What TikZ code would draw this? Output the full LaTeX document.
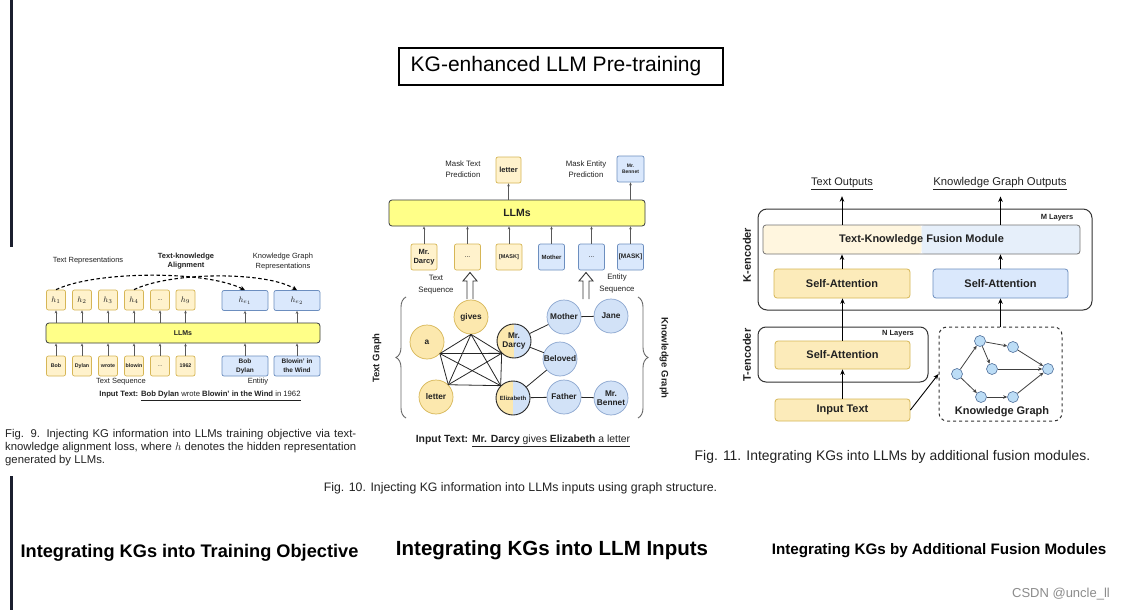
\documentclass[tikz,border=0pt]{standalone}
\usepackage{fontspec}
\setmainfont{Liberation Sans}
\usetikzlibrary{arrows.meta,decorations.pathreplacing,calc}
\definecolor{yfill}{HTML}{FFF2CC}
\definecolor{ybd}{HTML}{D6B656}
\definecolor{bfill}{HTML}{DAE8FC}
\definecolor{bbd}{HTML}{6C8EBF}
\definecolor{llmfill}{HTML}{FFFF88}
\definecolor{llmbd}{HTML}{36393D}
\definecolor{cyfill}{HTML}{FCE8AE}
\definecolor{cbfill}{HTML}{D2E2F7}
\definecolor{cbbd}{HTML}{8BA6CF}
\definecolor{barc}{HTML}{1B1F2E}
\definecolor{txt}{HTML}{222222}
\definecolor{fuy}{HTML}{FFF6DF}
\definecolor{fub}{HTML}{E6EFFA}
\definecolor{sayfill}{HTML}{FCEBBA}
\definecolor{kgn}{HTML}{BCDDF6}
\definecolor{kgnbd}{HTML}{4F6F9A}
\newcommand\fsz[2]{\fontsize{#1}{#2}\selectfont}
\begin{document}
\begin{tikzpicture}[x=1pt,y=-1pt,
 ybox/.style={draw=ybd,fill=yfill,rounded corners=2pt,line width=0.7pt,inner sep=0pt,align=center,text=txt},
 bbox/.style={draw=bbd,fill=bfill,rounded corners=2pt,line width=0.7pt,inner sep=0pt,align=center,text=txt},
 llmbar/.style={draw=llmbd,fill=llmfill,rounded corners=3pt,line width=0.8pt,inner sep=0pt,text=txt},
 garr/.style={draw=black!65,line width=0.8pt,-{Stealth[length=3pt,width=2.6pt]}},
 barr/.style={draw=black,line width=0.9pt,-{Stealth[length=5.5pt,width=4.5pt]}},
 lbl/.style={inner sep=0pt,align=center,text=txt},
 ycirc/.style={circle,draw=ybd,fill=cyfill,minimum size=34pt,inner sep=0pt,line width=0.7pt,font=\bfseries\fsz{8.3}{9.5},text=txt,align=center},
 bcirc/.style={circle,draw=cbbd,fill=cbfill,minimum size=34pt,inner sep=0pt,line width=0.7pt,font=\bfseries\fsz{8.3}{9.5},text=txt,align=center},
 scirc/.style={circle,draw=black!85,line width=0.9pt,minimum size=34pt,inner sep=0pt,font=\bfseries\fsz{8.3}{9.5},text=txt,align=center,
   path picture={\fill[cyfill] (path picture bounding box.south west) rectangle (path picture bounding box.north);
                 \fill[cbfill] (path picture bounding box.south) rectangle (path picture bounding box.north east);}},
 gedge/.style={draw=black!85,line width=0.8pt},
 kgnode/.style={circle,draw=kgnbd,fill=kgn,minimum size=11pt,inner sep=0pt,line width=0.6pt},
 karr/.style={draw=black!75,line width=0.8pt,-{Stealth[length=4pt,width=3.5pt]}},
 hollow/.style={draw=black!80,fill=white,line width=0.9pt,line join=miter},
 brc/.style={decorate,decoration={brace,amplitude=10pt},draw=black!60,line width=0.9pt},
]
\useasboundingbox (0,0) rectangle (1125,610);
\fill[white] (0,0) rectangle (1125,610);
% left bars
\fill[barc] (10,0) rectangle (13,247);
\fill[barc] (10,476) rectangle (13,610);
% title
\node[draw=black,line width=2.5pt,minimum width=324pt,minimum height=37pt,inner sep=0pt,font=\fsz{21}{24}] (title) at (561,66.5) {KG-enhanced LLM Pre-training\hspace*{10pt}};

% ================= Fig 9 =================
\foreach \i/\x/\t in {1/56/$h_1$,2/82/$h_2$,3/108/$h_3$,4/134/$h_4$,5/160/{\fsz{6}{7}...},6/185.5/$h_9$}
  \node[ybox,minimum width=19pt,minimum height=20pt,font=\fsz{8}{9}] (h\i) at (\x,300) {\t};
\node[bbox,minimum width=46pt,minimum height=20pt,font=\fsz{8}{9}] (he1) at (245,300.5) {$h_{e_1}$};
\node[bbox,minimum width=46pt,minimum height=20pt,font=\fsz{8}{9}] (he2) at (297,300.5) {$h_{e_2}$};
\node[llmbar,minimum width=274pt,minimum height=20pt,font=\bfseries\fsz{7}{8}] (llm9) at (183,333) {LLMs};
\foreach \i/\x/\t in {1/56/Bob,2/82/Dylan,3/108/wrote,4/134/blowin,5/160/{\mdseries...},6/185.5/1962}
  \node[ybox,minimum width=19pt,minimum height=20pt,font=\bfseries\fsz{5.3}{6}] (t\i) at (\x,366) {\t};
\node[bbox,minimum width=46pt,minimum height=20pt,font=\bfseries\fsz{6.5}{9}] (e1) at (245,366) {Bob\\Dylan};
\node[bbox,minimum width=46pt,minimum height=20pt,font=\bfseries\fsz{6.5}{9}] (e2) at (297,366) {Blowin' in\\the Wind};
\foreach \i in {1,...,6}{
  \draw[garr] (t\i.north) -- (t\i.north |- llm9.south);
  \draw[garr] (h\i.south |- llm9.north) -- (h\i.south);
}
\foreach \i in {1,2}{
  \draw[garr] (e\i.north) -- (e\i.north |- llm9.south);
  \draw[garr] (he\i.south |- llm9.north) -- (he\i.south);
}
\draw[line width=1.1pt,dash pattern=on 3.5pt off 2.5pt,-{Stealth[length=5pt,width=4.5pt]}] (h1.north) .. controls (95,271) and (205,270) .. (he1.north);
\draw[line width=1.1pt,dash pattern=on 3.5pt off 2.5pt,-{Stealth[length=5pt,width=4.5pt]}] (h4.north) .. controls (170,272) and (265,271) .. (he2.north);
\node[lbl,font=\fsz{7.5}{9}] (trep) at (88,261) {Text Representations};
\node[lbl,font=\bfseries\fsz{7.5}{9}] (tka) at (186,261.5) {Text-knowledge\\Alignment};
\node[lbl,font=\fsz{7.5}{10}] (kgrep) at (283,262) {Knowledge Graph\\Representations};
\node[lbl,font=\fsz{7.5}{9}] (tseq9) at (121,382) {Text Sequence};
\node[lbl,font=\fsz{7.5}{9}] (ent9) at (258,382) {Entitiy};
\node[lbl,font=\fsz{7.7}{9}] (in9) at (200,396) {\textbf{Input Text:} \underline{\textbf{Bob Dylan} wrote \textbf{Blowin' in the Wind} in 1962}};
\node[lbl,anchor=north west,text width=351pt,align=justify,font=\fsz{11.3}{12.7}] (cap9) at (5,429.5)
 {Fig. 9. Injecting KG information into LLMs training objective via text-\linebreak knowledge alignment loss, where $h$ denotes the hidden representation\linebreak generated by LLMs.};

% ================= Fig 10 =================
\node[lbl,font=\fsz{7.8}{11}] (mtp) at (463,169.5) {Mask Text\\Prediction};
\node[ybox,minimum width=25pt,minimum height=26pt,font=\bfseries\fsz{7.5}{9}] (letter) at (508.5,170) {letter};
\node[lbl,font=\fsz{7.8}{11}] (mep) at (586,169.5) {Mask Entity\\Prediction};
\node[bbox,minimum width=27pt,minimum height=26pt,font=\bfseries\fsz{5}{6.5}] (mbn) at (630.5,169) {Mr.\\Bennet};
\node[llmbar,minimum width=256pt,minimum height=26pt,font=\bfseries\fsz{10.5}{12}] (llm10) at (517,213) {LLMs};
\node[ybox,minimum width=26pt,minimum height=26pt,font=\bfseries\fsz{7.5}{9}] (s1) at (424,257) {Mr.\\Darcy};
\node[ybox,minimum width=26pt,minimum height=26pt,font=\fsz{7}{8}] (s2) at (467.5,257) {...};
\node[ybox,minimum width=26pt,minimum height=26pt,font=\bfseries\fsz{5.5}{7}] (s3) at (509,257) {[MASK]};
\node[bbox,minimum width=26pt,minimum height=26pt,font=\bfseries\fsz{6}{7}] (s4) at (551.5,257) {Mother};
\node[bbox,minimum width=26pt,minimum height=26pt,font=\fsz{7}{8}] (s5) at (591.5,257) {...};
\node[bbox,minimum width=26pt,minimum height=26pt,font=\bfseries\fsz{6.5}{7}] (s6) at (630.5,257) {[MASK]};
\foreach \i in {1,...,6} \draw[garr] (s\i.north) -- (s\i.north |- llm10.south);
\draw[garr] (letter.south |- llm10.north) -- (letter.south);
\draw[garr] (mbn.south |- llm10.north) -- (mbn.south);
\node[lbl,font=\fsz{7.8}{12}] (tseq10) at (436,285) {Text\\Sequence};
\node[lbl,font=\fsz{7.8}{12}] (eseq10) at (617,283) {Entity\\Sequence};
\draw[hollow] (467,299) -- (467,281) -- (463,281) -- (470,272.5) -- (477,281) -- (473,281) -- (473,299);
\draw[hollow] (583,299) -- (583,281) -- (579,281) -- (586,272.5) -- (593,281) -- (589,281) -- (589,299);
\draw[brc] (406,418) -- (406,297);
\draw[brc] (638,297) -- (638,418);
\node[lbl,font=\bfseries\fsz{9.5}{11},rotate=90] (tg) at (377,358) {Text Graph};
\node[lbl,font=\bfseries\fsz{9.5}{11},rotate=-90] (kg) at (664,358) {Knowledge Graph};
\node[ycirc] (ca) at (427,342) {a};
\node[ycirc] (cg) at (471,317) {gives};
\node[ycirc] (cl) at (436,397) {letter};
\node[scirc] (cd) at (514,341) {Mr.\\Darcy};
\node[scirc,font=\bfseries\fsz{6}{7}] (ce) at (513,398) {Elizabeth};
\node[bcirc] (cm) at (564,317) {Mother};
\node[bcirc] (cj) at (611,316) {Jane};
\node[bcirc] (cb) at (560,359) {Beloved};
\node[bcirc] (cf) at (564,397) {Father};
\node[bcirc] (cn) at (611,398) {Mr.\\Bennet};
\draw[gedge] (ca.-42) -- (cg.-90);
\draw[gedge] (ca.-42) -- (cl.45);
\draw[gedge] (ca.-42) -- (cd.-135);
\draw[gedge] (ca.-42) -- (ce.135);
\draw[gedge] (cg.-90) -- (cl.45);
\draw[gedge] (cg.-90) -- (cd.-135);
\draw[gedge] (cg.-90) -- (ce.135);
\draw[gedge] (cl.45) -- (cd.-135);
\draw[gedge] (cl.45) -- (ce.135);
\draw[gedge] (cd.-135) -- (ce.135);
\draw[gedge] (cd) -- (cm);
\draw[gedge] (cd) -- (cb);
\draw[gedge] (ce) -- (cb);
\draw[gedge] (ce) -- (cf);
\draw[gedge] (cm) -- (cj);
\draw[gedge] (cf) -- (cn);
\node[lbl,font=\fsz{10.4}{12}] (in10) at (523,441) {\textbf{Input Text:} \underline{\textbf{Mr. Darcy} gives \textbf{Elizabeth} a letter}};
\node[lbl,font=\fsz{12.3}{14}] (cap10) at (520.5,488) {Fig. 10. Injecting KG information into LLMs inputs using graph structure.};

% ================= Fig 11 =================
\node[lbl,font=\fsz{11}{12}] (tout) at (842,184) {\underline{Text Outputs}};
\node[lbl,font=\fsz{11.3}{12}] (kgout) at (1000,184) {\underline{Knowledge Graph Outputs}};
\node[draw=black!80,line width=1pt,rounded corners=9pt,minimum width=334pt,minimum height=101pt,inner sep=0pt] (kenc) at (925,259.5) {};
\node[lbl,font=\bfseries\fsz{11}{12},rotate=90] (klab) at (747,255) {K-encoder};
\node[lbl,font=\bfseries\fsz{7.5}{9}] (mlay) at (1057,218) {M Layers};
\node[draw=black!55,line width=0.8pt,rounded corners=3pt,minimum width=317pt,minimum height=29pt,inner sep=0pt,font=\bfseries\fsz{11}{12},text=txt,
  path picture={\fill[fuy] (path picture bounding box.south west) rectangle (path picture bounding box.north);
                \fill[fub] (path picture bounding box.south) rectangle (path picture bounding box.north east);}] (fusion) at (921.5,239.5) {Text-Knowledge Fusion Module};
\node[draw=ybd,fill=sayfill,rounded corners=3pt,line width=0.8pt,minimum width=136pt,minimum height=29pt,inner sep=0pt,font=\bfseries\fsz{11}{12},text=txt] (ksa) at (842,283.5) {Self-Attention};
\node[draw=bbd,fill=bfill,rounded corners=3pt,line width=0.8pt,minimum width=135pt,minimum height=29pt,inner sep=0pt,font=\bfseries\fsz{11}{12},text=txt] (ksa2) at (1000.5,283.5) {Self-Attention};
\node[draw=black!80,line width=1pt,rounded corners=8pt,minimum width=170pt,minimum height=55pt,inner sep=0pt] (tenc) at (843,354.5) {};
\node[lbl,font=\bfseries\fsz{11}{12},rotate=90] (tlab) at (747,355) {T-encoder};
\node[lbl,font=\bfseries\fsz{7.5}{9}] (nlay) at (898,334) {N Layers};
\node[draw=ybd,fill=sayfill,rounded corners=3pt,line width=0.8pt,minimum width=135pt,minimum height=28pt,inner sep=0pt,font=\bfseries\fsz{11}{12},text=txt] (tsa) at (842.5,355) {Self-Attention};
\node[draw=ybd,fill=sayfill,rounded corners=3pt,line width=0.8pt,minimum width=135pt,minimum height=22pt,inner sep=0pt,font=\bfseries\fsz{11}{12},text=txt] (intext) at (842.5,410) {Input Text};
\node[draw=black!80,dashed,line width=1pt,rounded corners=8pt,minimum width=123pt,minimum height=94pt,inner sep=0pt] (kgbox) at (1000.5,374) {};
\node[lbl,font=\bfseries\fsz{11}{12}] (kglab) at (1002,412) {Knowledge Graph};
\node[kgnode] (n1) at (957,374) {};
\node[kgnode] (n2) at (980,341) {};
\node[kgnode] (n3) at (1013,347) {};
\node[kgnode] (n4) at (992,369) {};
\node[kgnode] (n5) at (1048,369) {};
\node[kgnode] (n6) at (981,397) {};
\node[kgnode] (n7) at (1013,397) {};
\draw[karr] (n1) -- (n2);
\draw[karr] (n1) -- (n6);
\draw[karr] (n2) -- (n3);
\draw[karr] (n2) -- (n4);
\draw[karr] (n3) -- (n5);
\draw[karr] (n4) -- (n5);
\draw[karr] (n6) -- (n7);
\draw[karr] (n7) -- (n5);
\draw[barr] (intext.north) -- (tsa.south);
\draw[barr] (tsa.north) -- (tsa.north |- ksa.south);
\draw[barr] (kgbox.north) -- (ksa2.south);
\draw[barr] (ksa.north) -- (ksa.north |- fusion.south);
\draw[barr] (ksa2.north) -- (ksa2.north |- fusion.south);
\draw[barr,shorten >=6pt] (ksa.north |- fusion.north) -- (tout.south);
\draw[barr,shorten >=6pt] (ksa2.north |- fusion.north) -- (ksa2.north |- kgout.south);
\draw[barr] (intext.east) -- (kgbox.west);
\node[lbl,font=\fsz{13.9}{15}] (cap11) at (892.5,457) {Fig. 11. Integrating KGs into LLMs by additional fusion modules.};

% ================= bottom labels =================
\node[lbl,text=black,font=\bfseries\fsz{18.2}{20}] (lab1) at (189.5,553) {Integrating KGs into Training Objective};
\node[lbl,text=black,font=\bfseries\fsz{20.5}{22}] (lab2) at (552,550) {Integrating KGs into LLM Inputs};
\node[lbl,text=black,font=\bfseries\fsz{15.2}{17}] (lab3) at (939,551) {Integrating KGs by Additional Fusion Modules};
\node[lbl,text=black!45,font=\fsz{13}{14}] (csdn) at (1061,594) {CSDN @uncle\_ll};
\end{tikzpicture}
\end{document}
